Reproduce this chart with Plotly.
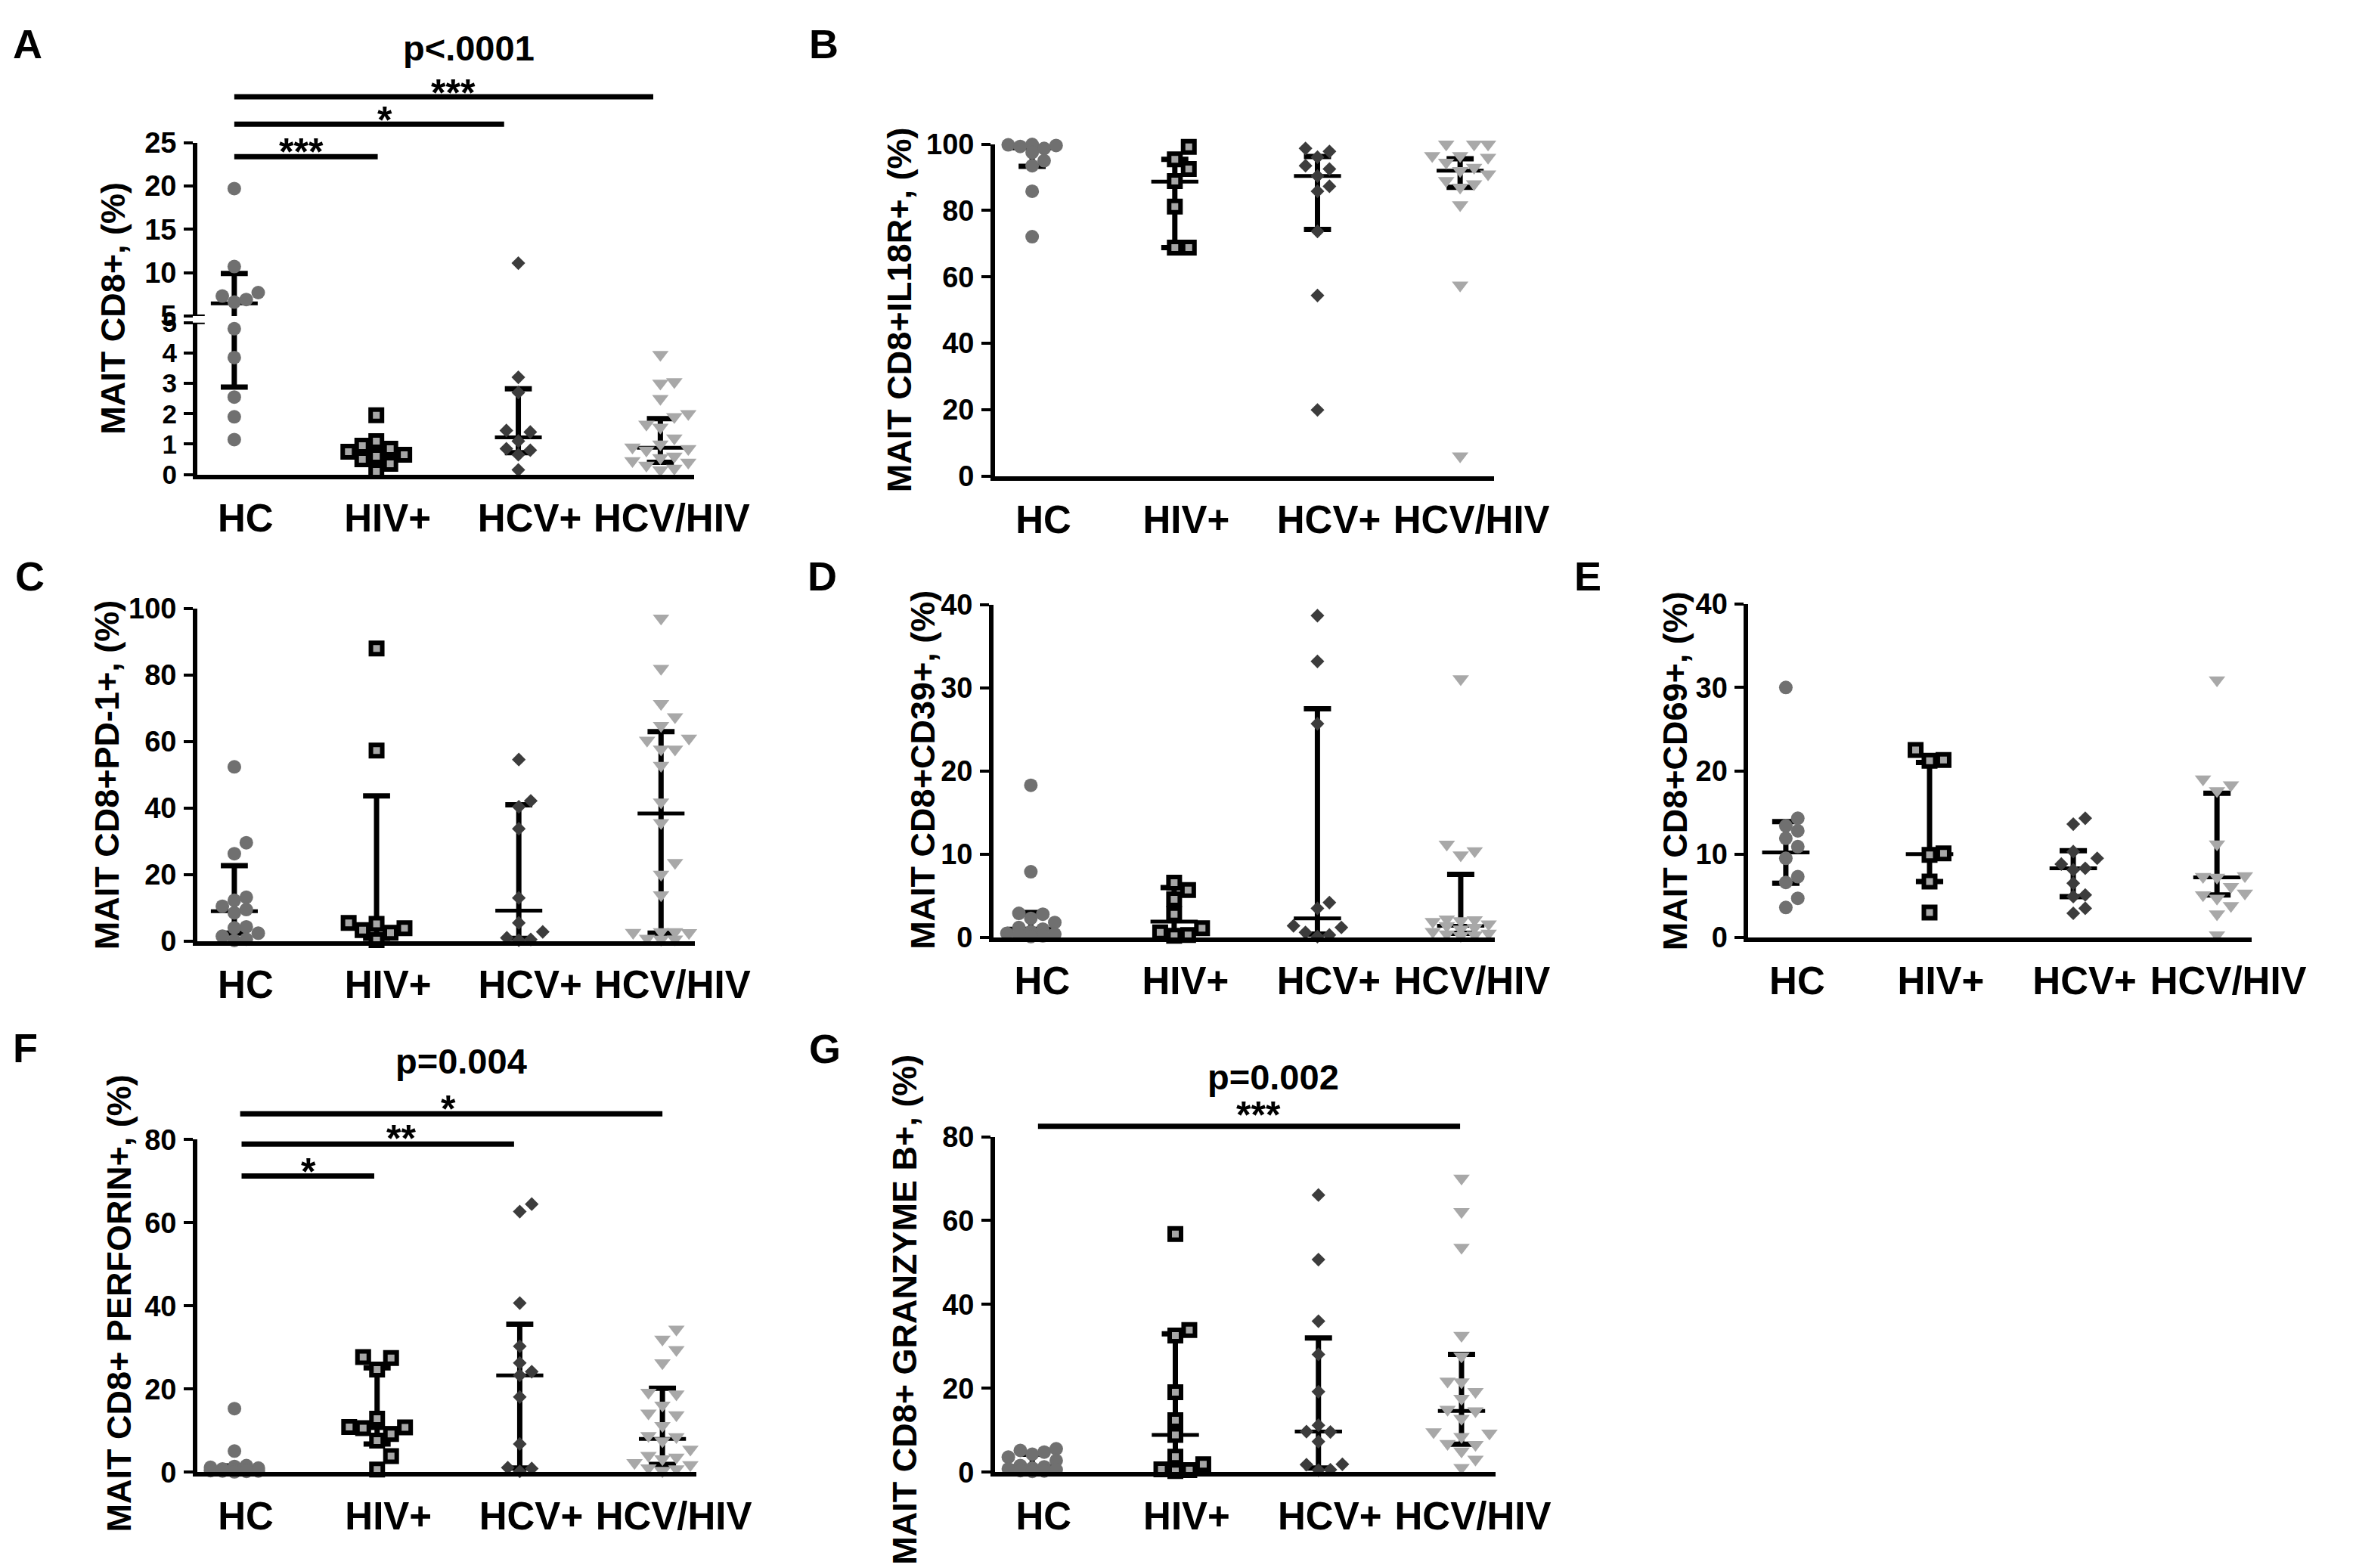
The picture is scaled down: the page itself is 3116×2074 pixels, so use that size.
import numpy as np
import plotly.graph_objects as go

W, H = 3116, 2074
FONT = "Liberation Sans, Arial, Helvetica, sans-serif"

groups = ["HC", "HIV+", "HCV+", "HCV/HIV"]

# ---- values (% of MAIT CD8+ cells) ----
# A: MAIT CD8+
a_hc = [19.7, 10.7, 7.7, 7.3, 6.9, 6.6, 4.8, 3.85, 2.55, 1.9, 1.15]
a_hiv = [1.95, 1.1, 0.95, 0.85, 0.75, 0.65, 0.6, 0.5, 0.35, 0.1]
a_hcv = [11.1, 3.2, 2.7, 1.45, 1.4, 1.1, 0.85, 0.8, 0.65, 0.15]
a_co = [3.95, 3.05, 3.0, 2.5, 2.0, 1.9, 1.65, 1.55, 1.2, 1.0, 0.9, 0.85, 0.8,
        0.6, 0.55, 0.45, 0.4, 0.3, 0.2, 0.15]
a_med = [6.45, 0.68, 1.22, 0.88]
a_q1 = [2.88, 0.45, 0.72, 0.40]
a_q3 = [9.9, 0.95, 2.82, 1.84]

# B: MAIT CD8+IL18R+
b_hc = [99.9, 99.8, 99.6, 99.3, 98.7, 97.5, 95.0, 93.5, 85.8, 72.1]
b_hiv = [99.2, 95.4, 92.5, 88.9, 81.2, 68.8, 68.8]
b_hcv = [98.7, 97.8, 96.1, 93.5, 92.5, 90.4, 87.3, 85.8, 73.7, 54.4, 19.9]
b_co = [100, 100, 100, 96.5, 96.5, 96, 94.5, 93, 92, 91, 89, 88, 87, 81.7, 57.5, 6]
b_med = [98.7, 88.7, 90.4, 92.0]
b_q1 = [93.3, 68.8, 74.3, 87.0]
b_q3 = [99.9, 95.4, 96.3, 95.6]

# C: MAIT CD8+PD-1+
c_hc = [52.4, 29.6, 26.3, 13.2, 12.3, 10.5, 9.5, 8.5, 4.3, 4.0, 2.4, 1.5, 0.6, 0.2]
c_hiv = [88.0, 57.3, 5.5, 5.2, 3.9, 3.3, 2.5, 0.3]
c_hcv = [54.6, 42.2, 40.4, 33.8, 13.0, 5.5, 2.8, 1.0, 0.5, 0.3]
c_co = [97.1, 82.0, 71.4, 67.4, 64.8, 61.0, 60.4, 57.7, 57.7, 52.8, 41.8, 35.6,
        23.6, 20.1, 13.9, 2.8, 2.8, 2.6, 2.5, 0.8, 0.6, 0.5]
c_med = [9.0, 3.9, 9.2, 38.4]
c_q1 = [2.4, 0.8, 0.8, 2.4]
c_q3 = [22.7, 43.7, 41.0, 63.0]

# D: MAIT CD8+CD39+
d_hc = [18.3, 7.9, 2.9, 2.8, 2.3, 1.8, 1.2, 1.0, 0.7, 0.5, 0.4, 0.3, 0.2, 0.1]
d_hiv = [6.6, 5.7, 4.6, 2.8, 1.1, 0.6, 0.3, 0.2]
d_hcv = [38.7, 33.2, 25.7, 4.2, 3.5, 1.4, 1.2, 0.6, 0.3, 0.1]
d_co = [31.1, 11.2, 10.4, 9.9, 2.2, 2.1, 2.0, 1.9, 1.6, 1.4, 1.2, 1.0, 0.7, 0.5,
        0.4, 0.3, 0.2]
d_med = [1.06, 1.9, 2.3, 1.4]
d_q1 = [0.3, 0.3, 0.4, 0.5]
d_q3 = [3.0, 6.0, 27.5, 7.6]

# E: MAIT CD8+CD69+
e_hc = [30.0, 14.3, 13.4, 12.8, 11.9, 10.9, 9.5, 7.3, 6.6, 4.7, 3.6]
e_hiv = [22.5, 21.3, 21.2, 10.1, 9.9, 6.7, 3.0]
e_hcv = [14.3, 13.6, 10.3, 9.5, 8.8, 8.3, 8.1, 6.5, 5.1, 4.9, 3.5, 2.9]
e_co = [30.9, 19.0, 18.3, 17.6, 11.2, 7.4, 7.3, 7.2, 6.1, 5.3, 5.1, 4.7, 3.8, 2.8, 0.3]
e_med = [10.2, 10.0, 8.3, 7.2]
e_q1 = [6.5, 6.7, 4.9, 5.1]
e_q3 = [13.9, 21.0, 10.4, 17.3]

# F: MAIT CD8+ PERFORIN+
f_hc = [15.3, 5.1, 1.6, 1.4, 1.2, 1.0, 0.8, 0.6, 0.5, 0.4, 0.3, 0.3, 0.2, 0.1]
f_hiv = [27.7, 27.5, 24.7, 12.9, 10.9, 10.8, 10.6, 9.2, 7.6, 3.9, 0.65]
f_hcv = [64.5, 62.7, 40.7, 30.3, 26.3, 24.2, 23.3, 18.1, 6.8, 1.1, 0.9, 0.2]
f_co = [34.4, 32.0, 29.5, 26.3, 19.2, 18.8, 16.1, 14.2, 13.8, 11.2, 8.8, 8.5, 7.5,
        5.5, 4.0, 3.6, 3.2, 2.3, 1.8, 1.0, 0.8, 0.3]
f_med = [0.4, 10.6, 23.3, 8.0]
f_q1 = [0.1, 6.8, 1.0, 1.9]
f_q3 = [1.5, 25.1, 35.6, 20.2]

# G: MAIT CD8+ GRANZYME B+
g_hc = [5.6, 5.2, 4.8, 4.3, 3.6, 2.8, 1.6, 1.3, 1.0, 0.8, 0.6, 0.4, 0.3, 0.2]
g_hiv = [56.8, 33.9, 32.6, 19.1, 12.4, 8.9, 3.7, 1.9, 0.7, 0.5, 0.3]
g_hcv = [66.1, 50.7, 36.0, 28.1, 19.2, 11.2, 9.7, 9.6, 7.3, 1.9, 1.8, 0.6, 0.5]
g_co = [70.1, 62.1, 53.6, 32.6, 27.7, 21.7, 21.5, 19.2, 17.6, 15.0, 14.6, 12.8,
        9.6, 9.3, 8.5, 6.8, 6.6, 5.0, 3.1, 1.1]
g_med = [1.45, 8.9, 9.7, 14.6]
g_q1 = [0.5, 1.5, 1.0, 6.7]
g_q3 = [4.3, 33.0, 32.0, 28.1]

# significance brackets: (from group, to group, label, label position)
sig_a = [(0, 1.01, "***", 0.47), (0, 1.90, "*", 1.06), (0, 2.95, "***", 1.54)]
sig_f = [(0.05, 0.98, "*", 0.52), (0.05, 1.96, "**", 1.17), (0.04, 3.0, "*", 1.50)]
sig_g = [(0.04, 2.99, "***", 1.58)]
pvals = {"A": "p<.0001", "F": "p=0.004", "G": "p=0.002"}

# marker styles per group
MARK = [
    dict(symbol="circle", size=18, color="#707070", line=dict(width=0)),
    dict(symbol="square", size=15, color="#a6a6a6", line=dict(width=6, color="black")),
    dict(symbol="diamond", size=14, color="#3c3c3c", line=dict(width=0)),
    dict(symbol="triangle-down", size=19, color="#a8a8a8", line=dict(width=0)),
]
DIAM = [18, 21, 18, 21]

panels = [
    dict(L="A", n=1, xpx=(259, 932), ypx=(611, 406), top=5, ticks=[0, 1, 2, 3, 4, 5],
         upper=dict(n=8, ypx=(397, 163), rng=(5, 25), ticks=[5, 10, 15, 20, 25]),
         title="MAIT CD8+, (%)", tpos=(144, 387), lpos=(7, 30),
         data=[a_hc, a_hiv, a_hcv, a_co], med=a_med, q1=a_q1, q3=a_q3),
    dict(L="B", n=2, xpx=(1339, 2015), ypx=(613, 165), top=100, ticks=[0, 20, 40, 60, 80, 100],
         title="MAIT CD8+IL18R+, (%)", tpos=(1209, 389), lpos=(1085, 30),
         data=[b_hc, b_hiv, b_hcv, b_co], med=b_med, q1=b_q1, q3=b_q3),
    dict(L="C", n=3, xpx=(259, 933), ypx=(1241, 792), top=100, ticks=[0, 20, 40, 60, 80, 100],
         title="MAIT CD8+PD-1+, (%)", tpos=(137, 1016), lpos=(10, 748),
         data=[c_hc, c_hiv, c_hcv, c_co], med=c_med, q1=c_q1, q3=c_q3),
    dict(L="D", n=4, xpx=(1337, 2016), ypx=(1236, 787), top=40, ticks=[0, 10, 20, 30, 40],
         title="MAIT CD8+CD39+, (%)", tpos=(1241, 1010), lpos=(1083, 748),
         data=[d_hc, d_hiv, d_hcv, d_co], med=d_med, q1=d_q1, q3=d_q3),
    dict(L="E", n=5, xpx=(2359, 3040), ypx=(1236, 786), top=40, ticks=[0, 10, 20, 30, 40],
         title="MAIT CD8+CD69+, (%)", tpos=(2260, 1011), lpos=(2121, 748),
         data=[e_hc, e_hiv, e_hcv, e_co], med=e_med, q1=e_q1, q3=e_q3),
    dict(L="F", n=6, xpx=(259, 935), ypx=(1958, 1509), top=80, ticks=[0, 20, 40, 60, 80],
         title="MAIT CD8+ PERFORIN+, (%)", tpos=(154, 1730), lpos=(7, 1385),
         data=[f_hc, f_hiv, f_hcv, f_co], med=f_med, q1=f_q1, q3=f_q3),
    dict(L="G", n=7, xpx=(1339, 2017), ypx=(1958, 1505), top=80, ticks=[0, 20, 40, 60, 80],
         title="MAIT CD8+ GRANZYME B+, (%)", tpos=(1217, 1738), lpos=(1085, 1386),
         data=[g_hc, g_hiv, g_hcv, g_co], med=g_med, q1=g_q1, q3=g_q3),
]

XR = [-0.26, 3.24]


def fx(p):
    return p / W


def fy(p):
    return 1 - p / H


def ref(kind, n):
    return kind if n == 1 else f"{kind}{n}"


def swarm(ypix, diam):
    # simple dot-plot spreading, like GraphPad's scatter dot plot
    step = 0.9 * diam
    cands = [0.0]
    for k in (1, 2):
        cands += [k * step, -k * step]
    placed, xs = [], np.zeros(len(ypix))
    for i in np.argsort(ypix):
        best, best_d = 0.0, -1
        for c in cands:
            d = min([np.hypot(c - a, ypix[i] - b) for a, b in placed], default=1e9)
            if d >= 0.9 * diam:
                best = c
                break
            if d > best_d:
                best, best_d = c, d
        xs[i] = best
        placed.append((best, ypix[i]))
    return xs


fig = go.Figure()
layout = {}
shapes = []
annos = []

axis_font = dict(family=FONT, size=38, color="black", weight="bold")
cat_font = dict(family=FONT, size=51, color="black", weight="bold")
AXW = 6

for p in panels:
    n = p["n"]
    xr, yr = ref("x", n), ref("y", n)
    ux = (p["xpx"][1] - p["xpx"][0]) / (XR[1] - XR[0])
    split = "upper" in p
    if split:
        up = p["upper"]
        ppu_lo = (p["ypx"][0] - p["ypx"][1]) / p["top"]
        ppu_up = (up["ypx"][0] - up["ypx"][1]) / (up["rng"][1] - up["rng"][0])
        gap = p["ypx"][1] - up["ypx"][0]

        def ypix(v):
            v = np.asarray(v, float)
            return np.where(v <= 5, v * ppu_lo, 5 * ppu_lo + gap + (v - 5) * ppu_up)
    else:
        ppu = (p["ypx"][0] - p["ypx"][1]) / p["top"]

        def ypix(v):
            return np.asarray(v, float) * ppu

    # error bars: median and interquartile range
    segs = []
    for i in range(4):
        m, lo, hi = p["med"][i], p["q1"][i], p["q3"][i]
        segs.append(([i, i], [lo, hi], 7))
        segs.append(([i - 0.095, i + 0.095], [lo, lo], 7))
        segs.append(([i - 0.095, i + 0.095], [hi, hi], 7))
        segs.append(([i - 0.165, i + 0.165], [m, m], 5))

    for xs, ys, wdt in segs:
        if split:
            if ys[0] == ys[1]:
                parts = [(xs, ys, up["n"] if ys[0] > 5 else n)]
            elif ys[0] < 5 < ys[1]:
                parts = [(xs, [ys[0], 5], n), (xs, [5, ys[1]], up["n"])]
            else:
                parts = [(xs, ys, up["n"] if ys[0] > 5 else n)]
        else:
            parts = [(xs, ys, n)]
        for px_, py_, yax in parts:
            fig.add_trace(go.Scatter(x=px_, y=py_, mode="lines", xaxis=xr, yaxis=ref("y", yax),
                                     line=dict(color="black", width=wdt), showlegend=False,
                                     hoverinfo="skip", cliponaxis=False))

    # points
    for gi, vals in enumerate(p["data"]):
        vals = np.asarray(vals, float)
        off = swarm(ypix(vals), DIAM[gi]) / ux
        xs = gi + off
        if split:
            lo_m = vals <= 5
            chunks = [(lo_m, n), (~lo_m, up["n"])]
        else:
            chunks = [(np.ones(len(vals), bool), n)]
        for mask, yax in chunks:
            fig.add_trace(go.Scatter(x=xs[mask], y=vals[mask], mode="markers", xaxis=xr,
                                     yaxis=ref("y", yax), marker=MARK[gi], showlegend=False,
                                     cliponaxis=False, name=groups[gi]))

    # axes
    layout[ref("xaxis", n)] = dict(
        domain=[fx(p["xpx"][0]), fx(p["xpx"][1])], anchor=yr, range=XR,
        tickvals=[0, 1, 2, 3], ticktext=groups, ticks="", showline=True,
        linecolor="black", linewidth=AXW, showgrid=False, zeroline=False,
        tickfont=cat_font, ticklabelstandoff=8, ticklabelshift=15, fixedrange=True)
    yax_style = dict(ticks="outside", ticklen=12, tickwidth=4, tickcolor="black",
                     showline=True, linecolor="black", linewidth=AXW, showgrid=False,
                     zeroline=False, ticklabelstandoff=2, fixedrange=True)
    layout[ref("yaxis", n)] = dict(
        domain=[fy(p["ypx"][0]), fy(p["ypx"][1])], anchor=xr, range=[0, p["top"]],
        tickvals=p["ticks"], tickfont=dict(axis_font, size=35) if split else axis_font,
        **yax_style)
    if split:
        layout[ref("yaxis", up["n"])] = dict(
            domain=[fy(up["ypx"][0]), fy(up["ypx"][1])], anchor=xr, range=list(up["rng"]),
            tickvals=up["ticks"], tickfont=axis_font, **yax_style)
        # axis break marks
        for yax in (n, up["n"]):
            shapes.append(dict(type="line", xref="paper", yref=ref("y", yax),
                               x0=fx(p["xpx"][0] - 12), x1=fx(p["xpx"][0] + 10), y0=5, y1=5,
                               line=dict(color="black", width=4)))

    # axis title
    annos.append(dict(text=p["title"], x=fx(p["tpos"][0]), y=fy(p["tpos"][1]),
                      xref="paper", yref="paper", textangle=-90, showarrow=False,
                      xanchor="center", yanchor="middle",
                      font=dict(family=FONT, size=45, color="black", weight="bold")))
    # panel letter
    annos.append(dict(text=p["L"], x=fx(p["lpos"][0]), y=fy(p["lpos"][1]),
                      xref="paper", yref="paper", showarrow=False, xanchor="left",
                      yanchor="middle",
                      font=dict(family=FONT, size=54, color="black", weight="bold")))

# significance bars (y in pixels from the top of the figure)
bar_specs = [
    ("x", sig_a, [182, 138, 101], [176, 133, 96]),
    ("x6", sig_f, [1558, 1515, 1474], [1552, 1508, 1468]),
    ("x7", sig_g, [1491], [1476]),
]
for xr, sigs, ybars, ystars in bar_specs:
    for (g0, g1, lab, gx), yb, ys in zip(sigs, ybars, ystars):
        shapes.append(dict(type="line", xref=xr, yref="paper", x0=g0, x1=g1,
                           y0=fy(yb), y1=fy(yb), line=dict(color="black", width=7)))
        annos.append(dict(text=lab, x=gx, y=fy(ys), xref=xr, yref="paper", showarrow=False,
                          xanchor="center", yanchor="middle",
                          font=dict(family=FONT, size=50, color="black", weight="bold")))

for key, pos in {"A": (626, 35), "F": (616, 1403), "G": (1716, 1424)}.items():
    annos.append(dict(text=pvals[key], x=fx(pos[0]), y=fy(pos[1]), xref="paper", yref="paper",
                      showarrow=False, xanchor="center", yanchor="middle",
                      font=dict(family=FONT, size=47, color="black", weight="bold")))

fig.update_layout(
    width=W, height=H, margin=dict(l=0, r=0, t=0, b=0),
    paper_bgcolor="white", plot_bgcolor="white", showlegend=False,
    shapes=shapes, annotations=annos, **layout)

fig.write_html("out.html")
